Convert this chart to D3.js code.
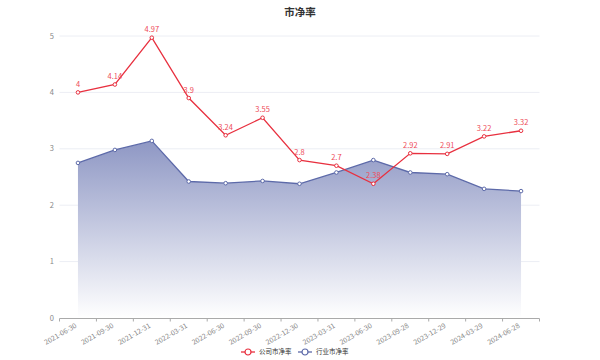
<!DOCTYPE html>
<html><head><meta charset="utf-8">
<script src="https://cdn.jsdelivr.net/npm/d3@7/dist/d3.min.js"></script>
<style>body{margin:0;background:#fff}svg{display:block;font-family:"Noto Sans CJK SC","Noto Sans",sans-serif}</style>
</head><body><svg id="c" width="600" height="360"></svg>
<script>
const categories = ["2021-06-30","2021-09-30","2021-12-31","2022-03-31","2022-06-30","2022-09-30","2022-12-30","2023-03-31","2023-06-30","2023-09-28","2023-12-29","2024-03-29","2024-06-28"];
const companyPB = [4, 4.14, 4.97, 3.9, 3.24, 3.55, 2.8, 2.7, 2.38, 2.92, 2.91, 3.22, 3.32];
const industryPB = [2.75, 2.98, 3.14, 2.42, 2.39, 2.43, 2.38, 2.58, 2.8, 2.58, 2.55, 2.29, 2.25];
const yTicks = [0, 1, 2, 3, 4, 5];
const title = "市净率";
const seriesNames = ["公司市净率", "行业市净率"];

const red = "#e8303f", blue = "#5d6aa9";
const svg = d3.select("#c");
const x = d3.scaleBand().domain(categories).range([59.5, 539.5]);
const y = d3.scaleLinear().domain([0, 5]).range([318, 36]);
const cx = d => x(d) + x.bandwidth() / 2;

// title
svg.append("text").attr("x", 300).attr("y", 16).attr("text-anchor", "middle")
  .attr("font-size", 10.5).attr("font-weight", "bold").attr("fill", "#333").text(title);

// grid
const g = svg.append("g");
g.selectAll("line.grid").data(yTicks.filter(t => t > 0)).join("line")
  .attr("x1", 59.5).attr("x2", 539.5).attr("y1", d => y(d)).attr("y2", d => y(d))
  .attr("stroke", "#eceef4").attr("stroke-width", 1);

// y labels
g.selectAll("text.yl").data(yTicks).join("text")
  .attr("x", 54).attr("y", d => y(d)).attr("dy", "0.35em").attr("text-anchor", "end")
  .attr("font-size", 7.5).attr("fill", "#888").text(d => d);

// area gradient
const defs = svg.append("defs");
const grad = defs.append("linearGradient").attr("id", "ga").attr("x1", 0).attr("y1", 0).attr("x2", 0).attr("y2", 1);
grad.append("stop").attr("offset", "0%").attr("stop-color", "#8e97c4").attr("stop-opacity", 1);
grad.append("stop").attr("offset", "100%").attr("stop-color", "#ffffff").attr("stop-opacity", 1);

const area = d3.area().x((d, i) => cx(categories[i])).y0(y(0)).y1(d => y(d));
svg.append("path").datum(industryPB).attr("d", area).attr("fill", "url(#ga)");

const line = d3.line().x((d, i) => cx(categories[i])).y(d => y(d));
svg.append("path").datum(industryPB).attr("d", line).attr("fill", "none").attr("stroke", blue).attr("stroke-width", 1.3);
svg.append("path").datum(companyPB).attr("d", line).attr("fill", "none").attr("stroke", red).attr("stroke-width", 1.3);

svg.selectAll("circle.b").data(industryPB).join("circle")
  .attr("cx", (d, i) => cx(categories[i])).attr("cy", d => y(d)).attr("r", 1.8)
  .attr("fill", "#fff").attr("stroke", blue).attr("stroke-width", 1);
svg.selectAll("circle.r").data(companyPB).join("circle")
  .attr("cx", (d, i) => cx(categories[i])).attr("cy", d => y(d)).attr("r", 1.8)
  .attr("fill", "#fff").attr("stroke", red).attr("stroke-width", 1);

svg.selectAll("text.lab").data(companyPB).join("text")
  .attr("x", (d, i) => cx(categories[i])).attr("y", d => y(d) - 5.5).attr("text-anchor", "middle")
  .attr("font-size", 7.5).attr("fill", "#ee4b59").text(d => d);

// x axis
svg.append("line").attr("x1", 59.5).attr("x2", 539.5).attr("y1", 318.5).attr("y2", 318.5).attr("stroke", "#aaa");
const ticks = categories.map(c => x(c)).concat([539.5]);
svg.selectAll("line.xt").data(ticks).join("line")
  .attr("x1", d => d).attr("x2", d => d).attr("y1", 318.5).attr("y2", 321.5).attr("stroke", "#aaa");
svg.selectAll("text.xl").data(categories).join("text")
  .attr("transform", d => `translate(${cx(d) - 2},${325}) rotate(-30)`)
  .attr("text-anchor", "end").attr("dy", "0.35em")
  .attr("font-size", 7).attr("fill", "#888").text(d => d);

// legend
const leg = [{name: seriesNames[0], color: red, x: 241}, {name: seriesNames[1], color: blue, x: 298}];
const lg = svg.selectAll("g.leg").data(leg).join("g").attr("transform", d => `translate(${d.x},352)`);
lg.append("line").attr("x1", 0).attr("x2", 14).attr("y1", 0).attr("y2", 0).attr("stroke", d => d.color).attr("stroke-width", 1.3);
lg.append("circle").attr("cx", 7).attr("cy", 0).attr("r", 3).attr("fill", "#fff").attr("stroke", d => d.color).attr("stroke-width", 1.2);
lg.append("text").attr("x", 18).attr("y", 0).attr("dy", "0.35em").attr("font-size", 6.5).attr("fill", "#333").text(d => d.name);
</script></body></html>
